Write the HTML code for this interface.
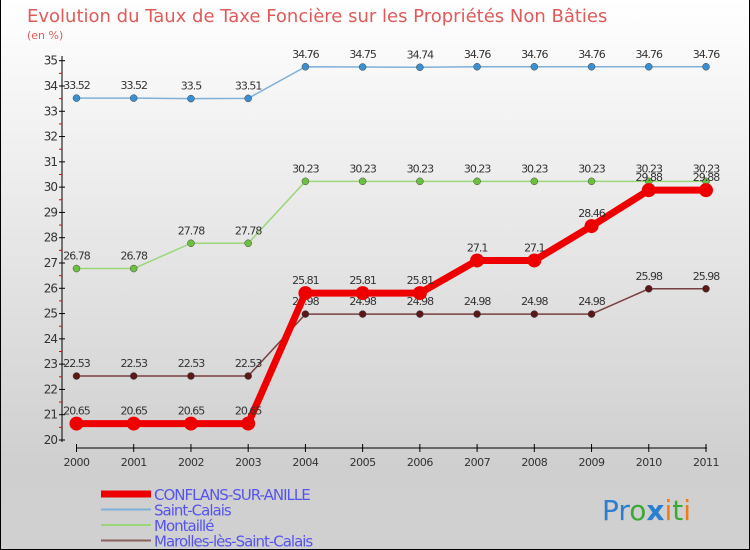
<!DOCTYPE html>
<html><head><meta charset="utf-8"><style>
body{margin:0}
#c{width:750px;height:550px;position:relative;overflow:hidden;background:linear-gradient(#ffffff,#cfcfcf 85%,#d0d0d0);font-family:"DejaVu Sans","Liberation Sans",sans-serif;box-sizing:border-box;border:1px solid #000;border-top:none}
</style></head><body>
<div id="c">
<svg id="s" width="750" height="550" style="position:absolute;left:0;top:0">
<text x="26" y="22" font-size="18" fill="#e05a5a">Evolution du Taux de Taxe Foncière sur les Propriétés Non Bâties</text>
<text x="26" y="39" font-size="11" fill="#e05a5a">(en %)</text>
<g id="g"></g>
<text x="690" y="520" font-size="28" text-anchor="end" font-family="DejaVu Sans"><tspan fill="#2a7fd0">Pr</tspan><tspan fill="#3aaa35">o</tspan><tspan fill="#2a7fd0" font-weight="bold">x</tspan><tspan fill="#f07b1a">i</tspan><tspan fill="#3aaa35">t</tspan><tspan fill="#f07b1a">i</tspan></text>
</svg>
</div>
<script>
const years=[2000,2001,2002,2003,2004,2005,2006,2007,2008,2009,2010,2011];
const conflans=[20.65,20.65,20.65,20.65,25.81,25.81,25.81,27.1,27.1,28.46,29.88,29.88];
const saintCalais=[33.52,33.52,33.5,33.51,34.76,34.75,34.74,34.76,34.76,34.76,34.76,34.76];
const montaille=[26.78,26.78,27.78,27.78,30.23,30.23,30.23,30.23,30.23,30.23,30.23,30.23];
const marolles=[22.53,22.53,22.53,22.53,24.98,24.98,24.98,24.98,24.98,24.98,25.98,25.98];
const yTicks=[20,21,22,23,24,25,26,27,28,29,30,31,32,33,34,35];
const names=["CONFLANS-SUR-ANILLE","Saint-Calais","Montaillé","Marolles-lès-Saint-Calais"];
const NS="http://www.w3.org/2000/svg";
const g=document.getElementById('g');
const xS=i=>75.5+i*(705-75.5)/11;
const yS=v=>440-(v-20)*(440-60.7)/15;
function mk(t,a,p){const e=document.createElementNS(NS,t);for(const k in a)e.setAttribute(k,a[k]);(p||g).appendChild(e);return e;}
// axes
let ax=mk('line',{x1:61,y1:56,x2:61,y2:442,stroke:'#000'});

let bx=mk('line',{x1:75,y1:448,x2:706,y2:448,stroke:'#000'});

yTicks.forEach((v,i)=>{
  mk('line',{x1:58,x2:64,y1:yS(v),y2:yS(v),stroke:'#000'});
  if(i<yTicks.length-1)mk('line',{x1:58,x2:61,y1:yS(v+0.5),y2:yS(v+0.5),stroke:'#e00'});
  const t=mk('text',{x:56,y:yS(v)+4,'font-size':12,'text-anchor':'end',fill:'#333','letter-spacing':'-1'});t.textContent=v;
  
});
years.forEach((yr,i)=>{
  mk('line',{x1:xS(i),x2:xS(i),y1:444,y2:452,stroke:'#000'});
  const t=mk('text',{x:xS(i),y:466,'font-size':11,'text-anchor':'middle',fill:'#333','letter-spacing':'-0.5'});t.textContent=yr;
  
});
function series(data,line,dot,lw,r,name){
  const p=mk('polyline',{points:data.map((v,i)=>xS(i)+','+yS(v)).join(' '),fill:'none',stroke:line,'stroke-width':lw,'stroke-linejoin':'round'});
  
  data.forEach((v,i)=>{
    const c=mk('circle',{cx:xS(i),cy:yS(v),r:r,fill:dot,stroke:dot==='#e00'?'none':'#444','stroke-width':0.5});
    
    const t=mk('text',{x:xS(i),y:yS(v)-9,'font-size':11,'text-anchor':'middle',fill:'#333','letter-spacing':'-1'});t.textContent=String(v).replace('.','.');
    
  });
}
series(saintCalais,'#7fb0da','#3a8fd0',1.5,3.5,'saint-calais');
series(montaille,'#9ad77a','#6cc040',1.5,3.5,'montaille');
series(marolles,'#7a4040','#5a1818',1.5,3.5,'marolles');
series(conflans,'#e00','#e00',7,7,'conflans');
// legend
const lc=['#e00','#7fb0da','#9ad77a','#8a6060'],lw=[7,2,2,2];
names.forEach((n,i)=>{
  const y=494+i*15.5;
  const l=mk('line',{x1:100,x2:150,y1:y,y2:y,stroke:lc[i],'stroke-width':lw[i]});
  
  const t=mk('text',{x:153,y:y+6,'font-size':15,fill:'#5555ee','letter-spacing':'-1'});t.textContent=n;
  
});
</script>
</body></html>
